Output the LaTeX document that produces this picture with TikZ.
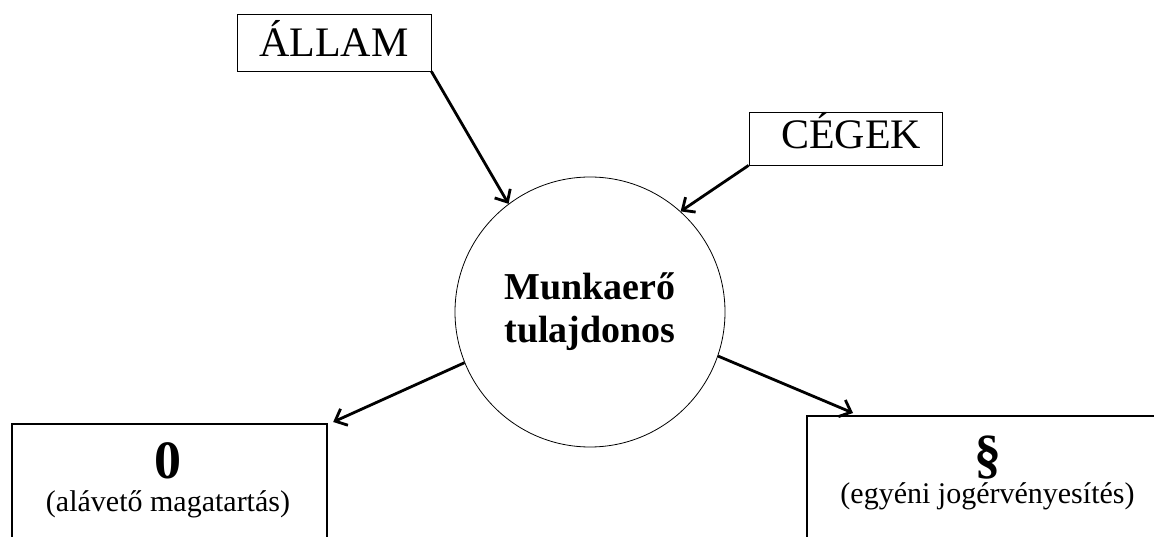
\documentclass[tikz,border=0pt]{standalone}
\usepackage{fontspec}
\setmainfont{Liberation Serif}
\usetikzlibrary{arrows.meta,calc}

\tikzset{
  actor/.style={draw, line width=0.8pt, inner sep=0pt, text height=28pt, text depth=0pt,
                font=\fontsize{42}{48}\selectfont},
  owner/.style={draw, circle, line width=0.8pt, inner sep=0pt, minimum size=270pt,
                align=center, font=\fontsize{38}{43}\selectfont\bfseries},
  outcome/.style={draw, line width=2.2pt, inner sep=0pt, anchor=north west},
  sign/.style={anchor=base, inner sep=0pt, font=\fontsize{54}{60}\selectfont\bfseries},
  caption/.style={anchor=base, inner sep=0pt, font=\fontsize{30}{36}\selectfont},
  flow/.style={line width=2.8pt, -{Straight Barb[length=10pt,width=18pt]}}
}

\begin{document}
\begin{tikzpicture}[x=1pt,y=1pt]
  \clip (0,0) rectangle (1154,536);
  \fill[white] (0,0) rectangle (1154,536);

  % outside actors
  \node[actor, minimum width=194pt, minimum height=57pt] (allam) at (334,493.5) {ÁLLAM};
  \node[actor, minimum width=193pt, minimum height=53pt, text height=26pt, text depth=5pt]
        (cegek) at (845.5,397.5) {\hspace*{11pt}CÉGEK};

  % the labour owner
  \node[owner] (c) at (590,224) {Munkaerő\\tulajdonos};

  % the two possible behaviours
  \node[outcome, minimum width=315pt, minimum height=160pt] (lbox) at (11,113) {};
  \node[outcome, minimum width=363pt, minimum height=160pt] (rbox) at (806,121) {};

  \node[sign] (zero) at (168,58) {0};
  \node[caption] (zerotext) at (168,25) {(alávető magatartás)};
  \node[sign] (para) at (987.5,64) {§};
  \node[caption] (paratext) at (987.5,33) {(egyéni jogérvényesítés)};

  % influences and outcomes
  \draw[flow] (allam.south east) -- (c.127.5);
  \draw[flow] (cegek.south west) -- (c.48.7);
  \draw[flow] (c.202) -- ($(lbox.north east)+(5pt,1pt)$);
  \draw[flow] (c.341.3) -- ($(rbox.north west)+(47pt,2pt)$);
\end{tikzpicture}
\end{document}
